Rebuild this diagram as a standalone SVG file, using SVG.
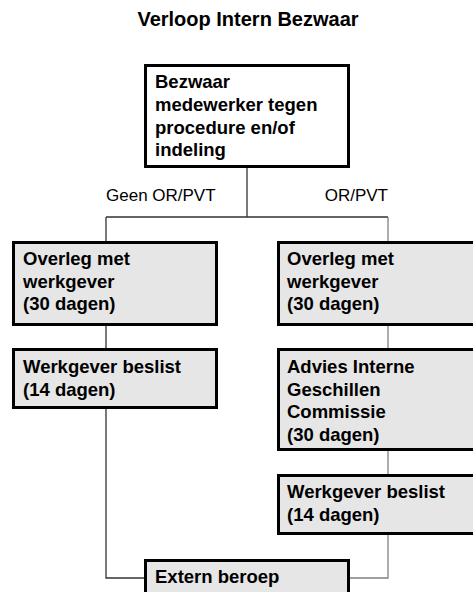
<svg xmlns="http://www.w3.org/2000/svg" width="473" height="592" viewBox="0 0 473 592">
<style>
.box{fill:#e6e6e6;stroke:#000;stroke-width:3}
.top{fill:#fff;stroke:#000;stroke-width:3}
.t{font-family:"Liberation Sans",Arial,sans-serif;font-weight:bold;font-size:18.5px;fill:#000}
.lbl{font-family:"Liberation Sans",Arial,sans-serif;font-size:17px;fill:#000}
.title{font-family:"Liberation Sans",Arial,sans-serif;font-weight:bold;font-size:20px;fill:#000}
.cl{fill:none;stroke:#333;stroke-width:1.3}
.cr{fill:none;stroke:#808080;stroke-width:1.3}
</style>
<rect width="473" height="592" fill="#fff"/>
<text class="title" x="248" y="26" text-anchor="middle">Verloop Intern Bezwaar</text>
<g id="connectors">
<path class="cl" d="M247 168V217M106 217H388M106 217V241M106 326V348M106 409V578H144"/>
<path class="cr" d="M388 217V241M388 326V348M388 451V474M388 535V578H350"/>
</g>
<g id="labels">
<text class="lbl" x="106" y="200.5">Geen OR/PVT</text>
<text class="lbl" x="388" y="200.5" text-anchor="end">OR/PVT</text>
</g>
<g id="bezwaar">
<rect class="top" x="145.5" y="65.5" width="203" height="101"/>
<text class="t" x="155" y="88.3">Bezwaar</text>
<text class="t" x="155" y="111">medewerker tegen</text>
<text class="t" x="155" y="133.6">procedure en/of</text>
<text class="t" x="155" y="156.3">indeling</text>
</g>
<g id="overleg-links">
<rect class="box" x="13.5" y="242.5" width="203" height="82"/>
<text class="t" x="23" y="265">Overleg met</text>
<text class="t" x="23" y="287.5">werkgever</text>
<text class="t" x="23" y="310">(30 dagen)</text>
</g>
<g id="beslist-links">
<rect class="box" x="13.5" y="349.5" width="203" height="58"/>
<text class="t" x="23" y="373">Werkgever beslist</text>
<text class="t" x="23" y="395.5">(14 dagen)</text>
</g>
<g id="overleg-rechts">
<rect class="box" x="278.5" y="242.5" width="210" height="82"/>
<text class="t" x="287" y="265">Overleg met</text>
<text class="t" x="287" y="287.5">werkgever</text>
<text class="t" x="287" y="310">(30 dagen)</text>
</g>
<g id="advies">
<rect class="box" x="278.5" y="349.5" width="210" height="100"/>
<text class="t" x="287" y="373">Advies Interne</text>
<text class="t" x="287" y="395.5">Geschillen</text>
<text class="t" x="287" y="418">Commissie</text>
<text class="t" x="287" y="441">(30 dagen)</text>
</g>
<g id="beslist-rechts">
<rect class="box" x="278.5" y="475.5" width="210" height="58"/>
<text class="t" x="287" y="498">Werkgever beslist</text>
<text class="t" x="287" y="520.5">(14 dagen)</text>
</g>
<g id="extern">
<rect class="box" x="145.5" y="560.5" width="203" height="50"/>
<text class="t" x="155" y="583">Extern beroep</text>
</g>
</svg>
